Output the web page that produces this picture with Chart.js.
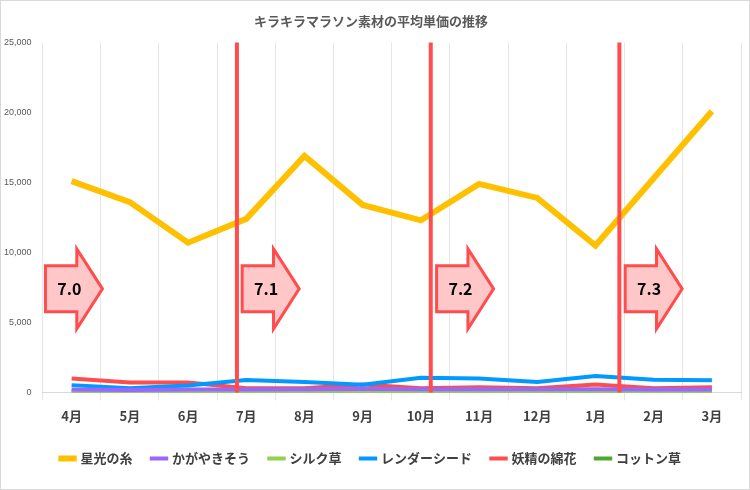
<!DOCTYPE html>
<html><head><meta charset="utf-8">
<script src="https://cdn.jsdelivr.net/npm/chart.js@4/dist/chart.umd.min.js"></script>
<style>
body{margin:0;background:#fff}
#wrap{width:750px;height:490px;box-sizing:border-box;border:1px solid #d9d9d9}
</style>
</head><body>
<div id="wrap"><canvas id="c" width="748" height="488"></canvas></div>
<script>
const months=["4月","5月","6月","7月","8月","9月","10月","11月","12月","1月","2月","3月"]
const hoshi=[15100,13600,10700,12400,16900,13400,12300,14900,13900,10500,15300,20100]
const kagaya=[200,180,200,200,220,250,220,230,220,230,200,200]
const silk=[90,90,90,90,90,90,90,90,90,90,90,90]
const render=[520,290,500,880,750,550,1050,1000,750,1170,900,860]
const yosei=[1000,700,700,290,290,570,290,360,290,570,290,360]
const cotton=[30,30,30,30,30,30,30,30,30,30,30,30]
const yTicks=[0,5000,10000,15000,20000,25000]
// version markers: fractional category index
const vlines=[2.84,6.17,9.41]
const versions=["7.0","7.1","7.2","7.3"]
const arrowAt=[-0.45,2.93,6.27,9.51]

const markers={
id:"markers",
afterDatasetsDraw(chart){
const ctx=chart.ctx,x=chart.scales.x,y=chart.scales.y
const px=i=>{const a=x.getPixelForValue(0),b=x.getPixelForValue(1);return a+(b-a)*i}
ctx.save()
ctx.strokeStyle="#ff4d4d";ctx.lineWidth=4
vlines.forEach(v=>{ctx.beginPath();ctx.moveTo(px(v),chart.chartArea.top);ctx.lineTo(px(v),chart.chartArea.bottom);ctx.stroke()})
const cy=y.getPixelForValue(7400)
arrowAt.forEach((a,k)=>{
const l=px(a),w=57,h=80,bh=46,r=l+w,nx=l+w*0.55
ctx.beginPath()
ctx.moveTo(l,cy-bh/2);ctx.lineTo(nx,cy-bh/2);ctx.lineTo(nx,cy-h/2);ctx.lineTo(r,cy)
ctx.lineTo(nx,cy+h/2);ctx.lineTo(nx,cy+bh/2);ctx.lineTo(l,cy+bh/2);ctx.closePath()
ctx.fillStyle="#ffc7c7";ctx.fill();ctx.lineWidth=3;ctx.strokeStyle="#ff4d4d";ctx.stroke()
ctx.fillStyle="#000";ctx.font="bold 16px 'Noto Sans CJK JP'";ctx.textAlign="center";ctx.textBaseline="middle"
ctx.fillText(versions[k],l+w*0.42,cy)
})
ctx.restore()
}}

const ds=(label,data,color)=>({label,data,borderColor:color,backgroundColor:color,borderWidth:label==="星光の糸"?6:4,pointRadius:0,tension:0})
new Chart(document.getElementById("c"),{
type:"line",
data:{labels:months,datasets:[
ds("星光の糸",hoshi,"#ffc000"),
ds("かがやきそう",kagaya,"#9966ff"),
ds("シルク草",silk,"#92d050"),
ds("レンダーシード",render,"#0099ff"),
ds("妖精の綿花",yosei,"#ff4d4d"),
ds("コットン草",cotton,"#4ea72e")]},
options:{responsive:false,animation:false,
layout:{padding:{left:0,right:8,top:4,bottom:14}},
plugins:{
title:{display:true,text:"キラキラマラソン素材の平均単価の推移",color:"#595959",font:{family:"'Noto Sans CJK JP'",size:13,weight:"bold"},padding:{top:8,bottom:14}},
legend:{position:"bottom",labels:{usePointStyle:true,pointStyle:"line",boxWidth:30,padding:20,color:"#404040",font:{family:"'Noto Sans CJK JP'",size:13,weight:"bold"}}}},
scales:{
x:{offset:true,grid:{color:"#e6e6e6",offset:true},border:{color:"#d9d9d9"},ticks:{color:"#404040",font:{family:"'Noto Sans CJK JP'",size:13,weight:"bold"},padding:8}},
y:{min:0,max:25000,afterBuildTicks:s=>{s.ticks=yTicks.map(v=>({value:v}))},grid:{display:false},border:{display:false},
ticks:{color:"#595959",font:{family:"Liberation Sans",size:9},callback:v=>v.toLocaleString("en-US")}}}},
plugins:[markers]})
</script>
</body></html>
